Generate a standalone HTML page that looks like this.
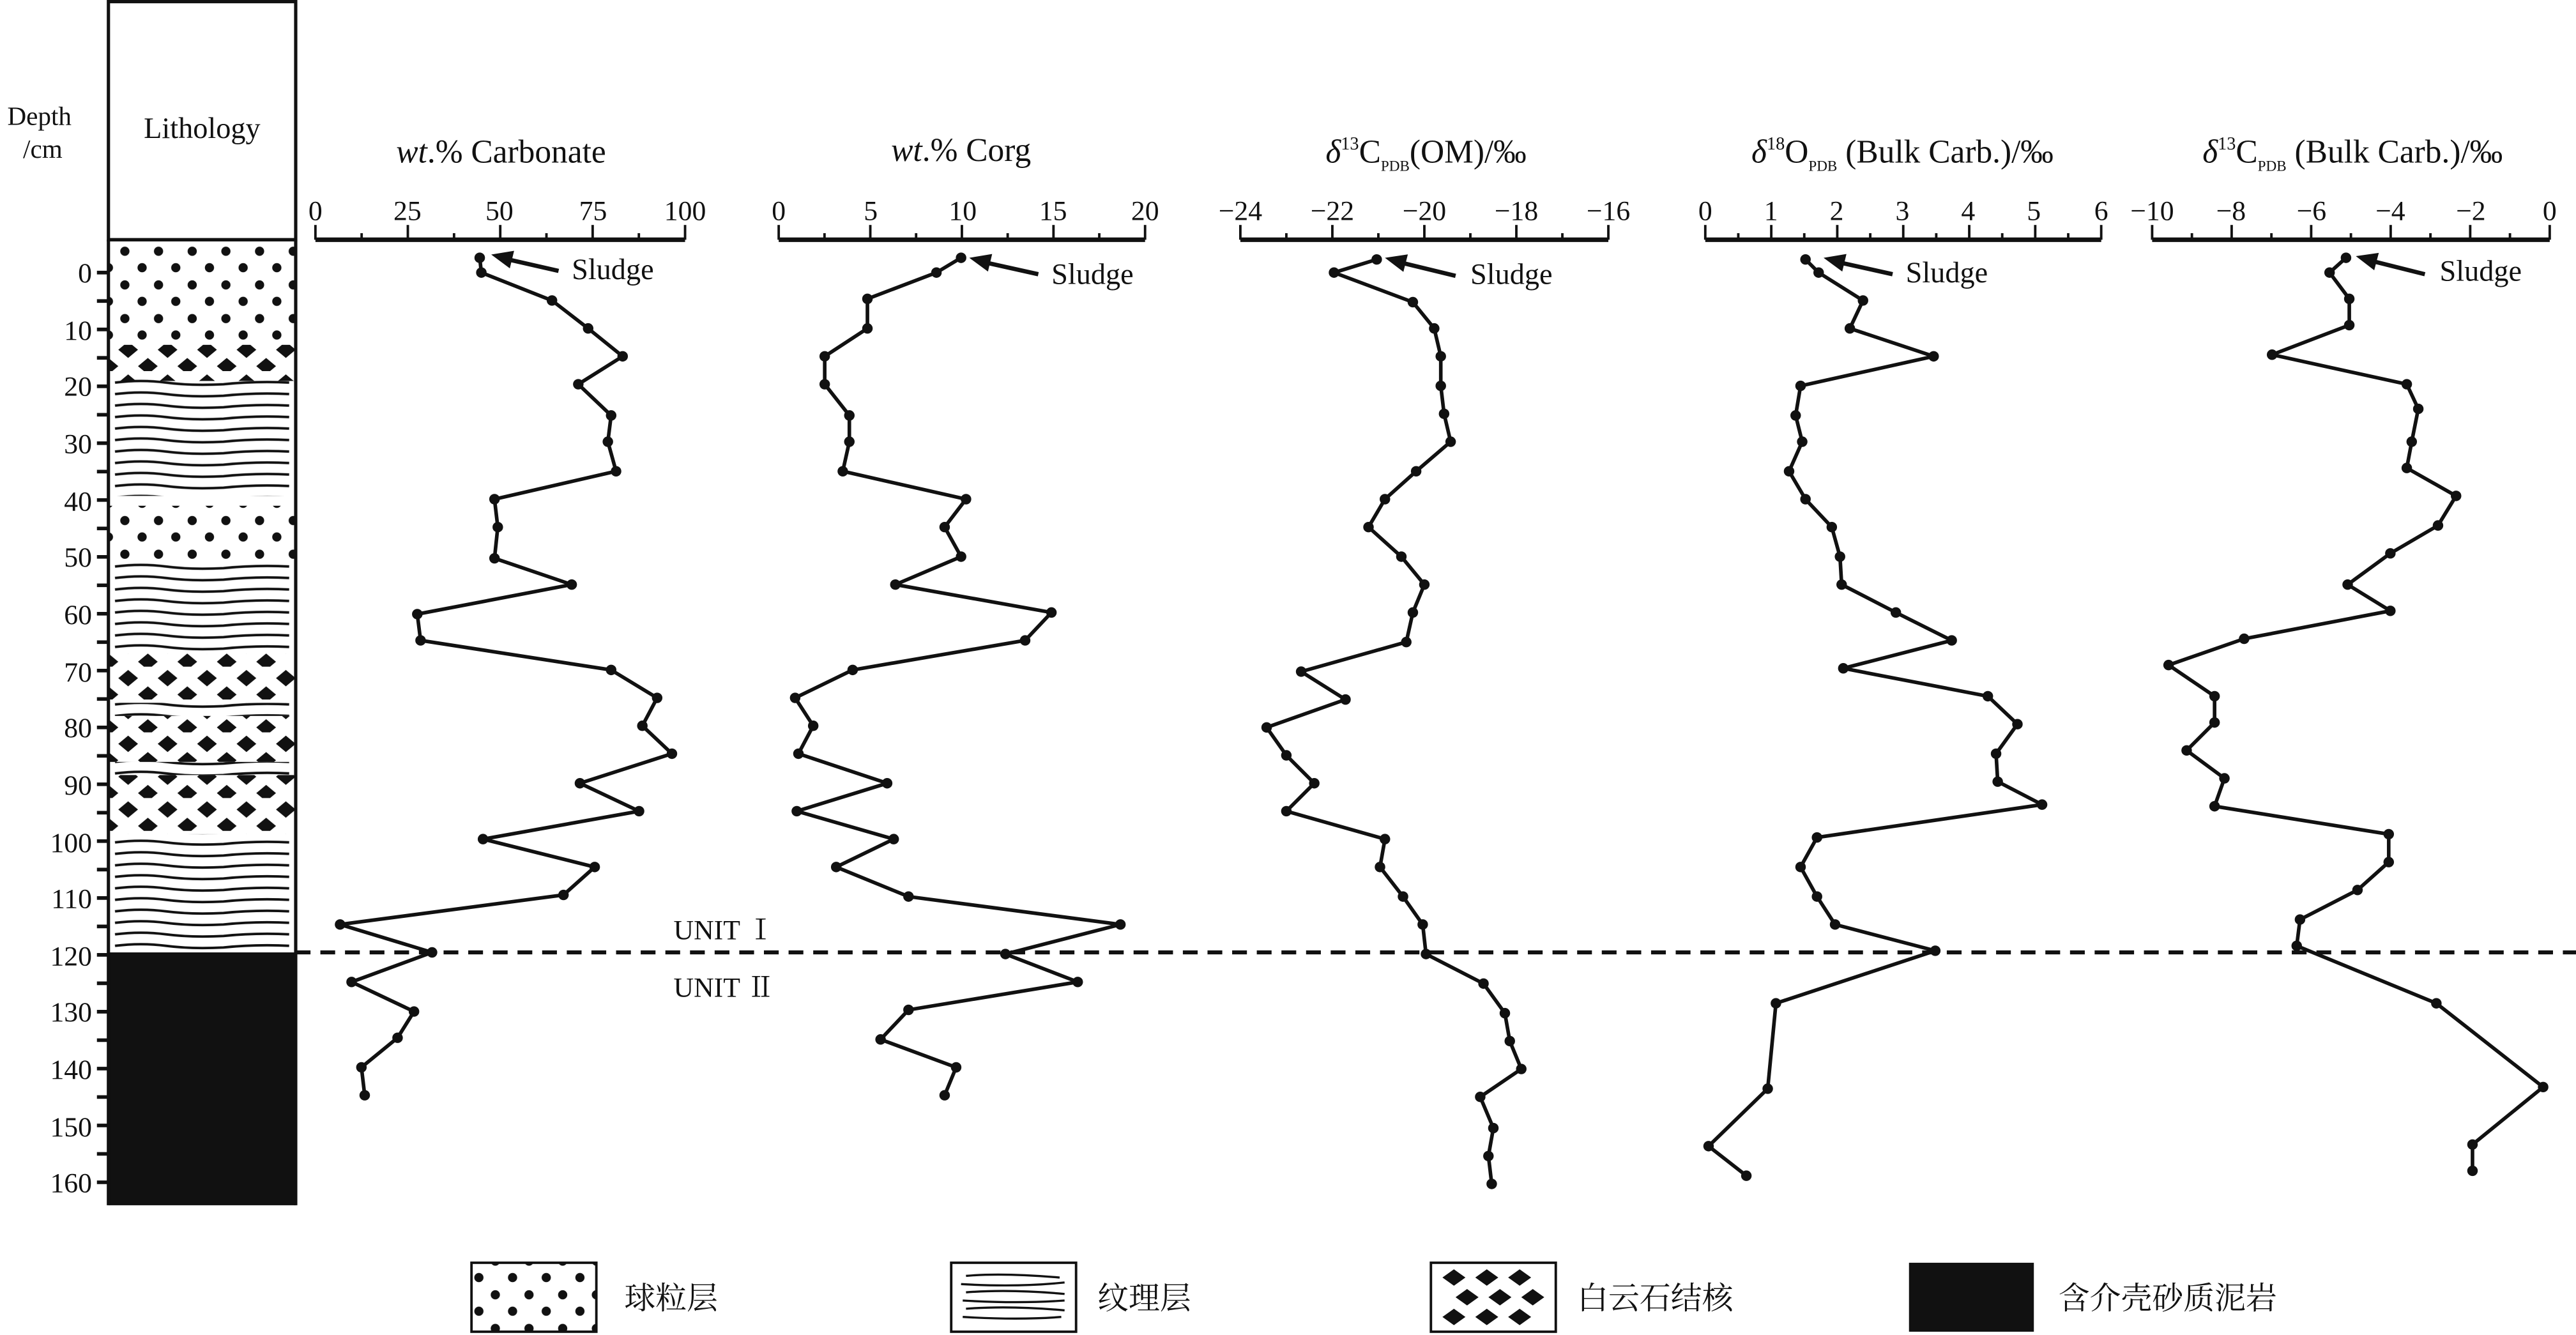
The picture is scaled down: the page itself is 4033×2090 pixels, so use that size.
<!DOCTYPE html>
<html><head><meta charset="utf-8"><style>
html,body{margin:0;padding:0;background:#fff;overflow:hidden}
svg{display:block}
text{font-family:"Liberation Serif","Noto Serif CJK SC",serif;fill:#111}
.cjk{font-family:"Liberation Serif","Noto Serif CJK SC","Noto Sans CJK SC",serif}
</style></head><body>
<svg id="s" xmlns="http://www.w3.org/2000/svg" width="4033" height="2090" viewBox="0 0 1568 813" preserveAspectRatio="none">
<defs>
<pattern id="dots" width="20.5" height="20.5" patternUnits="userSpaceOnUse" x="66" y="146">
<circle cx="10" cy="7" r="2.8" fill="#111"/><circle cx="0" cy="17" r="2.8" fill="#111"/><circle cx="20.5" cy="17" r="2.8" fill="#111"/></pattern>
<pattern id="dia" width="24" height="20" patternUnits="userSpaceOnUse" x="66" y="146">
<path d="M12 2 L18 7 L12 12 L6 7Z M0 12 L6 17 L0 22 L-6 17Z M24 12 L30 17 L24 22 L18 17Z" fill="#111"/></pattern>
<pattern id="lam" width="114" height="7" patternUnits="userSpaceOnUse" x="66" y="146">
<path d="M4 3 Q20 1 35 3 T70 4 Q90 2 110 3" stroke="#111" stroke-width="1.5" fill="none"/></pattern>
</defs>
<g id="g" stroke="#111" fill="none"></g>
<rect x="66" y="1" width="114" height="145" fill="none" stroke="#111" stroke-width="2"/>
<text x="123" y="84" font-size="18" text-anchor="middle" font-family="Liberation Sans">Lithology</text>
<text x="24" y="76" font-size="16" text-anchor="middle">Depth</text>
<text x="26" y="96" font-size="16" text-anchor="middle">/cm</text>
<rect x="66" y="146" width="114" height="64" fill="url(#dots)"/>
<rect x="66" y="210" width="114" height="22" fill="url(#dia)"/>
<rect x="66" y="230" width="114" height="72" fill="url(#lam)"/>
<rect x="66" y="308" width="114" height="34" fill="url(#dots)"/>
<rect x="66" y="342" width="114" height="56" fill="url(#lam)"/>
<rect x="66" y="398" width="114" height="30" fill="url(#dia)"/>
<rect x="66" y="428" width="114" height="8" fill="url(#lam)"/>
<rect x="66" y="436" width="114" height="28" fill="url(#dia)"/>
<rect x="66" y="464" width="114" height="8" fill="url(#lam)"/>
<rect x="66" y="472" width="114" height="36" fill="url(#dia)"/>
<rect x="66" y="508" width="114" height="72" fill="url(#lam)"/>
<rect x="66" y="580" width="114" height="154" fill="#111"/>
<line x1="66" y1="146" x2="66" y2="734" stroke="#111" stroke-width="2"/>
<line x1="180" y1="146" x2="180" y2="734" stroke="#111" stroke-width="2"/>
<line x1="66" y1="146" x2="180" y2="146" stroke="#111" stroke-width="2"/>
<g font-size="17" text-anchor="end">
<text x="56" y="172">0</text><text x="56" y="207">10</text><text x="56" y="241">20</text><text x="56" y="276">30</text><text x="56" y="311">40</text><text x="56" y="345">50</text><text x="56" y="380">60</text><text x="56" y="415">70</text><text x="56" y="449">80</text><text x="56" y="484">90</text><text x="56" y="519">100</text><text x="56" y="553">110</text><text x="56" y="588">120</text><text x="56" y="622">130</text><text x="56" y="657">140</text><text x="56" y="692">150</text><text x="56" y="726">160</text>
</g>
<g font-size="20" text-anchor="middle">
<text x="305" y="99"><tspan font-style="italic">wt</tspan>.% Carbonate</text>
<text x="585" y="98"><tspan font-style="italic">wt</tspan>.% Corg</text>
<text x="868" y="99"><tspan font-style="italic">δ</tspan><tspan font-size="11" dy="-8">13</tspan><tspan dy="8">C</tspan><tspan font-size="9" dy="5">PDB</tspan><tspan dy="-5">(OM)/‰</tspan></text>
<text x="1158" y="99"><tspan font-style="italic">δ</tspan><tspan font-size="11" dy="-8">18</tspan><tspan dy="8">O</tspan><tspan font-size="9" dy="5">PDB</tspan><tspan dy="-5"> (Bulk Carb.)/‰</tspan></text>
<text x="1432" y="99"><tspan font-style="italic">δ</tspan><tspan font-size="11" dy="-8">13</tspan><tspan dy="8">C</tspan><tspan font-size="9" dy="5">PDB</tspan><tspan dy="-5"> (Bulk Carb.)/‰</tspan></text>
</g>
<g font-size="17" text-anchor="middle">
<text x="192" y="134">0</text><text x="248" y="134">25</text><text x="304" y="134">50</text><text x="361" y="134">75</text><text x="417" y="134">100</text>
<text x="474" y="134">0</text><text x="530" y="134">5</text><text x="586" y="134">10</text><text x="641" y="134">15</text><text x="697" y="134">20</text>
<text x="755" y="134">−24</text><text x="811" y="134">−22</text><text x="867" y="134">−20</text><text x="923" y="134">−18</text><text x="979" y="134">−16</text>
<text x="1038" y="134">0</text><text x="1078" y="134">1</text><text x="1118" y="134">2</text><text x="1158" y="134">3</text><text x="1198" y="134">4</text><text x="1238" y="134">5</text><text x="1279" y="134">6</text>
<text x="1310" y="134">−10</text><text x="1358" y="134">−8</text><text x="1407" y="134">−6</text><text x="1455" y="134">−4</text><text x="1504" y="134">−2</text><text x="1552" y="134">0</text>
</g>
<g font-size="18">
<text x="348" y="170">Sludge</text><text x="640" y="173">Sludge</text><text x="895" y="173">Sludge</text><text x="1160" y="172">Sludge</text><text x="1485" y="171">Sludge</text>
</g>
<line x1="180" y1="580" x2="1568" y2="580" stroke="#111" stroke-width="2.4" stroke-dasharray="9,6"/>
<text x="410" y="572" font-size="17">UNIT Ⅰ</text>
<text x="410" y="607" font-size="17">UNIT Ⅱ</text>
<rect x="287" y="769" width="76" height="42" fill="url(#dots)" stroke="#111" stroke-width="1.5"/>
<rect x="579" y="769" width="76" height="42" fill="#fff" stroke="#111" stroke-width="1.5"/>
<g stroke="#111" stroke-width="1.3" fill="none">
<path d="M588 777 Q610 775 645 778"/><path d="M585 782 Q620 784 648 781"/><path d="M588 787 Q615 785 648 788"/><path d="M586 792 Q620 794 648 792"/><path d="M588 797 Q615 795 648 798"/><path d="M586 802 Q620 804 646 802"/></g>
<rect x="871" y="769" width="76" height="42" fill="#fff" stroke="#111" stroke-width="1.5"/>
<g fill="#111"><path d="M885 773l7 5-7 5-7-5z M905 773l7 5-7 5-7-5z M925 773l7 5-7 5-7-5z M893 785l7 5-7 5-7-5z M913 785l7 5-7 5-7-5z M933 785l7 5-7 5-7-5z M885 797l7 5-7 5-7-5z M905 797l7 5-7 5-7-5z M925 797l7 5-7 5-7-5z"/></g>
<rect x="1162" y="769" width="76" height="42" fill="#111"/>
<g font-size="19">
<text x="380" y="797" class="cjk">球粒层</text><text x="668" y="797" class="cjk">纹理层</text><text x="960" y="797" class="cjk">白云石结核</text><text x="1253" y="797" class="cjk">含介壳砂质泥岩</text>
</g>
</svg>
<script>
var NS="http://www.w3.org/2000/svg",g=document.getElementById("g");
function el(n,a){var e=document.createElementNS(NS,n);for(var k in a)e.setAttribute(k,a[k]);g.appendChild(e);return e;}
for(var d=0;d<=160;d+=5){var y=166+d*3.4625;el("line",{x1:59,y1:y,x2:66,y2:y,"stroke-width":2.2});}
function axis(x0,x1,n){el("line",{x1:x0,y1:146,x2:x1,y2:146,"stroke-width":2.8});for(var i=0;i<=n;i++){var x=x0+(x1-x0)*i/n;el("line",{x1:x,y1:146,x2:x,y2:i%2?142:137,"stroke-width":1.5});}}
axis(192,417,8);axis(474,697,8);axis(755,979,8);axis(1038,1279,12);axis(1310,1552,10);
function series(pts){var s=pts.map(function(p){return p.join(",")}).join(" ");el("polyline",{points:s,"stroke-width":2.2,"stroke-linejoin":"round"});pts.forEach(function(p){el("circle",{cx:p[0],cy:p[1],r:3.2,fill:"#111",stroke:"none"});});}
series([[292,157],[293,166],[336,183],[358,200],[379,217],[352,234],[372,253],[370,269],[375,287],[301,304],[303,321],[301,340],[348,356],[254,374],[256,390],[372,408],[400,425],[391,442],[409,459],[353,477],[389,494],[294,511],[362,528],[343,545],[207,563],[263,580],[214,598],[252,616],[242,632],[220,650],[222,667]]);
series([[585,157],[570,166],[528,182],[528,200],[502,217],[502,234],[517,253],[517,269],[513,287],[588,304],[575,321],[585,339],[545,356],[640,373],[624,390],[519,408],[484,425],[495,442],[486,459],[540,477],[485,494],[544,511],[509,528],[553,546],[682,563],[612,581],[656,598],[553,615],[536,633],[582,650],[575,667]]);
series([[838,158],[812,166],[860,184],[873,200],[877,217],[877,235],[879,252],[883,269],[862,287],[843,304],[833,321],[853,339],[867,356],[860,373],[856,391],[792,409],[819,426],[771,443],[783,460],[800,477],[783,494],[843,511],[840,528],[854,546],[866,563],[868,581],[903,599],[916,617],[919,634],[926,651],[901,668],[909,687],[906,704],[908,721]]);
series([[1099,158],[1107,166],[1134,183],[1126,200],[1177,217],[1096,235],[1093,253],[1097,269],[1089,287],[1099,304],[1115,321],[1120,339],[1121,356],[1154,373],[1188,390],[1122,407],[1210,424],[1228,441],[1215,459],[1216,476],[1243,490],[1106,510],[1096,528],[1106,546],[1117,563],[1178,579],[1081,611],[1076,663],[1040,698],[1063,716]]);
series([[1428,157],[1418,166],[1430,182],[1430,198],[1383,216],[1465,234],[1472,249],[1468,269],[1465,285],[1495,302],[1484,320],[1455,337],[1429,356],[1455,372],[1366,389],[1320,405],[1348,424],[1348,440],[1331,457],[1354,474],[1348,491],[1454,508],[1454,525],[1435,542],[1400,560],[1398,576],[1483,611],[1548,662],[1505,697],[1505,713]]);
function arrow(x0,y0,x1,y1){el("line",{x1:x0,y1:y0,x2:x1+6,y2:y1+2,"stroke-width":2.6});var a=Math.atan2(y1-y0,x1-x0),L=13,w=5.5;var p=[[x1,y1],[x1-L*Math.cos(a)+w*Math.sin(a),y1-L*Math.sin(a)-w*Math.cos(a)],[x1-L*Math.cos(a)-w*Math.sin(a),y1-L*Math.sin(a)+w*Math.cos(a)]];el("polygon",{points:p.map(function(q){return q.join(",")}).join(" "),fill:"#111",stroke:"none"});}
arrow(340,165,299,155);arrow(632,167,590,157);arrow(886,168,843,157);arrow(1152,167,1110,157);arrow(1476,167,1434,156);
</script>
</body></html>
